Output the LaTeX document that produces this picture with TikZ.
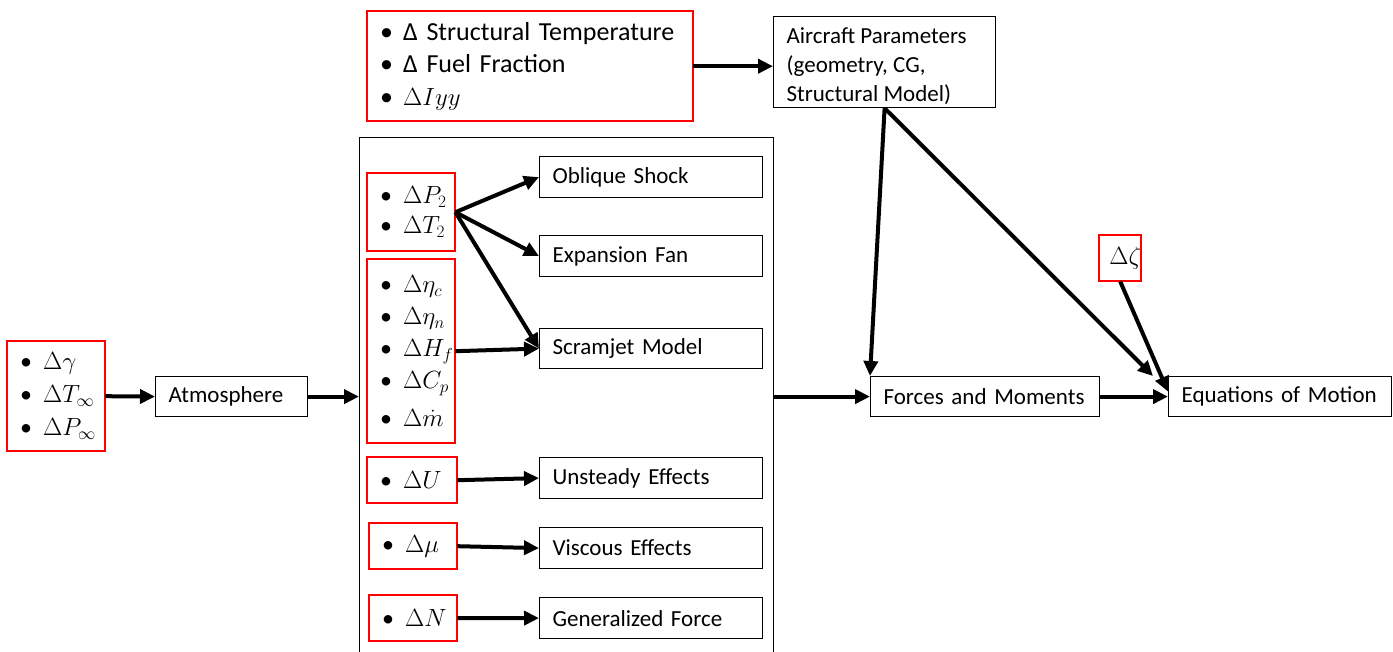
\documentclass[tikz,border=0pt]{standalone}
\usepackage{fontspec}
\setmainfont{Carlito}
\usetikzlibrary{arrows.meta,calc}
\newcommand\itm{\makebox[23pt][l]{\textbullet}}
\begin{document}
\begin{tikzpicture}[x=1pt,y=-1pt,
  redbox/.style={anchor=north west, inner xsep=13pt, inner ysep=0pt, align=left, font=\fontsize{24}{33}\selectfont},
  redline/.style={draw=red, line width=2pt},
  blkbox/.style={draw=black, line width=1.2pt, anchor=north west, inner xsep=13pt, inner ysep=0pt, align=left, minimum height=41pt, font=\fontsize{23}{28}\selectfont},
  flow/.style={line width=4pt, -{Triangle[length=15pt,width=14pt]}},
]
\useasboundingbox (0,0) rectangle (1393,652);
\clip (0,0) rectangle (1393,652);

% red input boxes (text)
\node[redbox, minimum width=326pt, minimum height=110pt, text width=300pt, font=\fontsize{26}{32.5}\selectfont] (top) at (367,11)
  {\itm Δ Structural Temperature\\ \itm Δ Fuel Fraction\\ \itm $\Delta Iyy$};
\node[redbox, minimum width=98pt, minimum height=110pt, text width=72pt] (lft) at (7,341)
  {\itm $\Delta\gamma$\\ \itm $\Delta T_\infty$\\ \itm $\Delta P_\infty$};
\node[redbox, minimum width=88pt, minimum height=78pt, text width=62pt, font=\fontsize{24}{30}\selectfont] (pt) at (367,173)
  {\itm $\Delta P_2$\\ \itm $\Delta T_2$};
\node[redbox, minimum width=88pt, minimum height=184pt, text width=62pt, font=\fontsize{24}{32}\selectfont] (eta) at (367,259)
  {\itm $\Delta\eta_c$\\ \itm $\Delta\eta_n$\\ \itm $\Delta H_f$\\ \itm $\Delta C_p$\\[6pt] \itm $\Delta\dot m$};
\node[redbox, minimum width=90pt, minimum height=46pt, text width=64pt] (du) at (367,457)
  {\itm $\Delta U$};
\node[redbox, minimum width=88pt, minimum height=46pt, text width=62pt] (dmu) at (369,523)
  {\itm $\Delta \mu$};
\node[redbox, minimum width=88pt, minimum height=46pt, text width=62pt] (dn) at (369,595)
  {\itm $\Delta N$};
\node[anchor=north west, inner sep=0pt, minimum width=42pt, minimum height=46pt, font=\fontsize{24}{30}\selectfont] (zeta) at (1099,235)
  {\hspace*{10pt}$\Delta\zeta$};

% red borders
\foreach \b in {top,lft,pt,eta,du,dmu,dn,zeta}
  \draw[redline] (\b.north west) rectangle (\b.south east);

% big container
\node[draw=black, line width=1.2pt, anchor=north west, inner sep=0pt, minimum width=414pt, minimum height=528pt] (big) at (359,137) {};

% black boxes
\node[draw=black, line width=1.2pt, anchor=north west, inner xsep=13pt, inner ysep=0pt, minimum width=222pt, minimum height=91pt, font=\fontsize{23}{29}\selectfont] (air) at (773,16)
  {\parbox{196pt}{\vspace*{9pt}Aircraft Parameters\\(geometry, CG,\\Structural Model)}};
\node[blkbox, minimum width=152pt, minimum height=40pt, text width=126pt] (atm) at (155,376) {Atmosphere};
\node[blkbox, minimum width=223pt, text width=197pt] (obl) at (539,156) {Oblique Shock};
\node[blkbox, minimum width=223pt, text width=197pt] (exf) at (539,235) {Expansion Fan};
\node[blkbox, minimum width=223pt, minimum height=40pt, text width=197pt] (scr) at (539,328) {Scramjet Model};
\node[blkbox, minimum width=223pt, text width=197pt] (uns) at (539,457) {Unsteady Effects};
\node[blkbox, minimum width=223pt, text width=197pt] (vis) at (539,527) {Viscous Effects};
\node[blkbox, minimum width=223pt, text width=197pt] (gen) at (539,597) {Generalized Force};
\node[blkbox, minimum width=229pt, minimum height=40pt, text width=203pt] (frc) at (870,376) {Forces and Moments};
\node[blkbox, minimum width=223pt, minimum height=40pt, text width=197pt] (eom) at (1168,376) {Equations of Motion};

% connectors
\draw[flow] (top.east) -- (top.east -| air.west);
\draw[flow] (lft.east) -- (atm.west);
\draw[flow] (atm.east) -- (atm.east -| big.west);
\draw[flow] (pt.east) -- (obl.west);
\draw[flow] (pt.east) -- (exf.west);
\draw[flow] (pt.east) -- (scr.west);
\draw[flow] (eta.east) -- (scr.west);
\draw[flow] (du.east) -- (uns.west);
\draw[flow] (dmu.east) -- (vis.west);
\draw[flow] (dn.east) -- (gen.west);
\draw[flow] (big.east |- frc.west) -- (frc.west);
\draw[flow] (air.south) -- (frc.north west);
\draw[flow] (air.south) -- ($(eom.north west)+(-15,0)$);
\draw[flow] (zeta.south) -- ($(eom.west)+(0,-5)$);
\draw[flow] (frc.east) -- (eom.west);
\end{tikzpicture}
\end{document}
